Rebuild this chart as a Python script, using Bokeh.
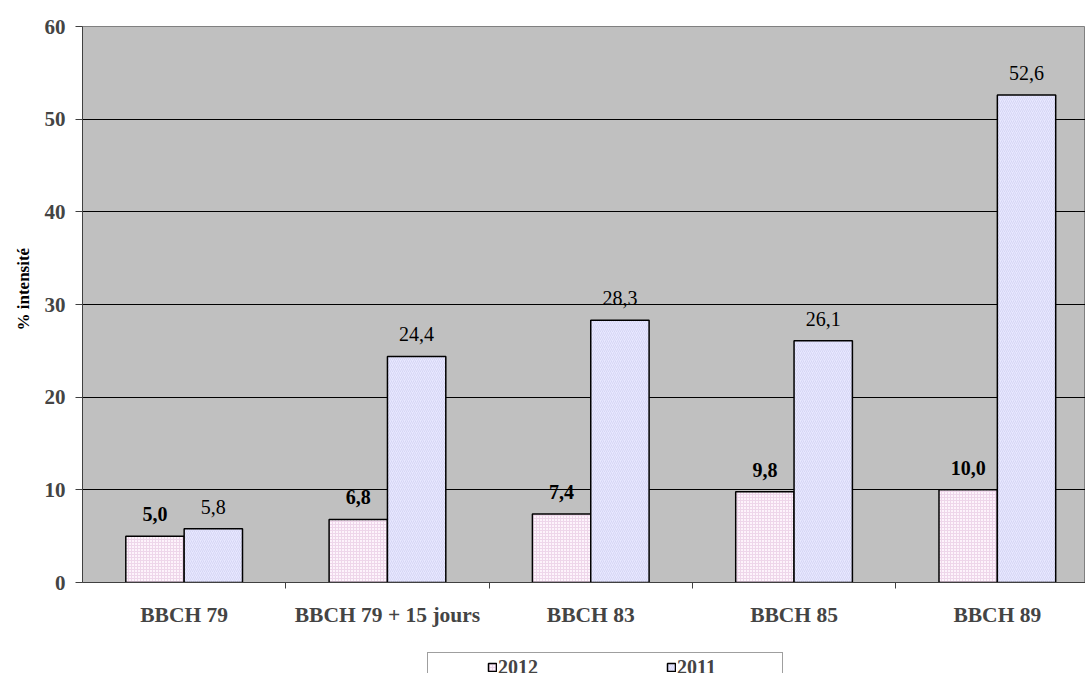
from bokeh.plotting import figure
from bokeh.layouts import column
from bokeh.models import (ColumnDataSource, Range1d, FixedTicker, Legend, LegendItem, Title)
from bokeh.core.properties import value
from bokeh.embed import file_html
from bokeh.resources import INLINE

# Stades phénologiques et intensité (%) par année
stades = ["BBCH 79", "BBCH 79 + 15 jours", "BBCH 83", "BBCH 85", "BBCH 89"]
val_2012 = [5.0, 6.8, 7.4, 9.8, 10.0]
val_2011 = [5.8, 24.4, 28.3, 26.1, 52.6]
y_ticks = [0, 10, 20, 30, 40, 50, 60]
series = ["2012", "2011"]

FONT = "Liberation Serif"
BAR_W = 0.287
centers = [i + 0.5 for i in range(len(stades))]

STYLE_2012 = dict(fill_color="#FDF3FB", line_color="black", line_width=1.5,
                  hatch_pattern="cross", hatch_color="#EED6EA", hatch_scale=3,
                  hatch_weight=1)
STYLE_2011 = dict(fill_color="#E8E8FF", line_color="black", line_width=1.5,
                  hatch_pattern="right_diagonal_line", hatch_color="#D6D6F4",
                  hatch_scale=4, hatch_weight=1)


def fmt(v):
    return f"{v:.1f}".replace(".", ",")


src_2012 = ColumnDataSource(dict(
    x=[c - BAR_W / 2 for c in centers], top=val_2012,
    label=[fmt(v) for v in val_2012]))
src_2011 = ColumnDataSource(dict(
    x=[c + BAR_W / 2 for c in centers], top=val_2011,
    label=[fmt(v) for v in val_2011]))

p = figure(width=1085, height=645, output_backend="svg", toolbar_location=None,
           x_range=Range1d(0, 4.9336), y_range=Range1d(0, 60),
           min_border_left=82, min_border_right=0, min_border_top=26,
           min_border_bottom=63)
p.background_fill_color = "#C0C0C0"
p.border_fill_color = "white"
p.outline_line_color = "#808080"
p.outline_line_width = 1

# barres
p.vbar(x="x", top="top", width=BAR_W, bottom=0, source=src_2012, **STYLE_2012)
p.vbar(x="x", top="top", width=BAR_W, bottom=0, source=src_2011, **STYLE_2011)

# étiquettes de valeurs
p.text(x="x", y="top", text="label", source=src_2012, text_align="center",
       text_baseline="alphabetic", y_offset=-22, text_font=value(FONT),
       text_font_size="20px", text_font_style="bold", text_color="black")
p.text(x="x", y="top", text="label", source=src_2011, text_align="center",
       text_baseline="alphabetic", y_offset=-22, text_font=value(FONT),
       text_font_size="20px", text_color="black")

# axe Y
p.yaxis.ticker = FixedTicker(ticks=y_ticks)
p.yaxis.major_label_text_font = FONT
p.yaxis.major_label_text_font_size = "21px"
p.yaxis.major_label_text_font_style = "bold"
p.yaxis.major_label_standoff = 10
p.yaxis.major_tick_out = 7
p.yaxis.major_tick_in = 0
p.yaxis.minor_tick_line_color = None
p.yaxis.axis_line_color = "#404040"
p.yaxis.major_tick_line_color = "#404040"

p.ygrid.ticker = FixedTicker(ticks=[10, 20, 30, 40, 50])
p.ygrid.grid_line_color = "black"
p.ygrid.grid_line_width = 1
p.xgrid.grid_line_color = None

# axe X : libellés centrés, graduations entre les groupes
p.xaxis.ticker = FixedTicker(ticks=centers, minor_ticks=[1, 2, 3, 4])
p.xaxis.major_label_overrides = {c: s for c, s in zip(centers, stades)}
p.xaxis.major_label_text_font = FONT
p.xaxis.major_label_text_font_size = "21.5px"
p.xaxis.major_label_text_font_style = "bold"
p.xaxis.major_tick_line_color = None
p.xaxis.major_tick_out = 0
p.xaxis.major_tick_in = 0
p.xaxis.major_label_standoff = 14
p.xaxis.minor_tick_out = 6
p.xaxis.minor_tick_in = 0
p.xaxis.minor_tick_line_color = "#404040"
p.xaxis.axis_line_color = "#404040"

# titre de l'axe Y
p.add_layout(Title(text="% intensité", align="left", offset=252, standoff=17,
                   vertical_align="bottom", text_font=FONT,
                   text_font_size="17px", text_font_style="bold",
                   text_color="black"), "left")

# bandeau de légende (cadre aligné sur celui du graphique, à x = 82)
lg = figure(width=1085, height=28, output_backend="svg", toolbar_location=None,
            x_range=Range1d(0, 1085), y_range=Range1d(0, 28), min_border=0)
lg.xaxis.visible = False
lg.yaxis.visible = False
lg.xgrid.grid_line_color = None
lg.ygrid.grid_line_color = None
lg.outline_line_color = None
lg.background_fill_color = "white"
lg.border_fill_color = "white"

nan = float("nan")
dummy = lg.rect(x=[nan], y=[nan], width=1, height=1, fill_alpha=0, line_alpha=0)
k12 = lg.rect(x=[nan], y=[nan], width=1, height=1, **STYLE_2012)
k11 = lg.rect(x=[nan], y=[nan], width=1, height=1, **STYLE_2011)

box = Legend(items=[LegendItem(label=" ", renderers=[dummy])],
             location=(345, -11), orientation="horizontal",
             padding=0, margin=0, spacing=0, glyph_width=10,
             glyph_height=30, label_width=344, label_height=30,
             label_standoff=0, border_line_color="#404040",
             border_line_width=1, background_fill_color="white",
             background_fill_alpha=1, label_text_font_size="20px")
lg.add_layout(box)

# carrés de couleur et libellés, posés séparément
common = dict(orientation="horizontal", padding=0, margin=0, spacing=8,
              glyph_width=10, glyph_height=10, label_width=160, label_height=10,
              label_standoff=1, border_line_color=None, background_fill_alpha=0,
              label_text_font=FONT, label_text_font_style="bold")
swatches = Legend(items=[LegendItem(label=" ", renderers=[k12]),
                         LegendItem(label=" ", renderers=[k11])],
                  location=(405, 1), label_text_font_size="1px", **common)
lg.add_layout(swatches)

names = Legend(items=[LegendItem(label=series[0], renderers=[dummy]),
                      LegendItem(label=series[1], renderers=[dummy])],
               location=(405, -6), label_text_font_size="20px", **common)
lg.add_layout(names)

page = column(p, lg, spacing=0)
open("out.html", "w").write(file_html(page, INLINE))
